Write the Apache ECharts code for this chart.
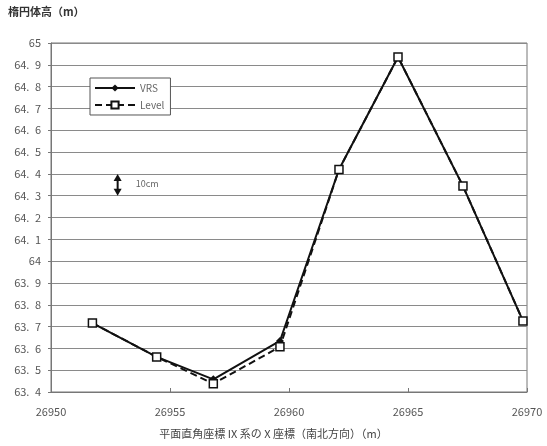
<!DOCTYPE html>
<html>
<head>
<meta charset="utf-8">
<script src="https://cdn.jsdelivr.net/npm/echarts@6/dist/echarts.min.js"></script>
<style>html,body{margin:0;padding:0;background:#fff;}#c{width:547px;height:446px;}</style>
</head>
<body>
<div id="c"></div>
<script>
const xValues = [26951.74, 26954.44, 26956.82, 26959.62, 26962.1, 26964.58, 26967.31, 26969.83];
const vrsValues = [63.716, 63.561, 63.458, 63.634, 64.42, 64.936, 64.344, 63.726];
const levelValues = [63.716, 63.561, 63.438, 63.607, 64.42, 64.936, 64.344, 63.726];
const seriesNames = ['VRS', 'Level'];
const yTitle = '楕円体高（m）';
const xTitle = '平面直角座標 IX 系の X 座標（南北方向）（m）';
const annoX = 26952.8, annoTop = 64.4, annoBottom = 64.3, annoText = '10cm';

const font = '"Noto Sans CJK JP", "Liberation Sans", sans-serif';
const chart = echarts.init(document.getElementById('c'));
const pair = (xs, ys) => xs.map((x, i) => [x, ys[i]]);

chart.setOption({
  animation: false,
  backgroundColor: '#fff',
  grid: { left: 51, right: 20, top: 43, bottom: 54, show: true, borderColor: '#777', borderWidth: 1, backgroundColor: 'transparent' },
  xAxis: {
    type: 'value', min: 26950, max: 26970, interval: 5,
    axisLine: { show: true, lineStyle: { color: '#777' } },
    axisTick: { show: true, inside: true, length: 4, lineStyle: { color: '#777' } },
    splitLine: { show: false },
    axisLabel: { color: '#555', fontSize: 11, fontFamily: font, margin: 14, formatter: v => String(v) }
  },
  yAxis: {
    type: 'value', min: 63.4, max: 65, interval: 0.1,
    axisLine: { show: true, lineStyle: { color: '#777' } },
    axisTick: { show: true, length: 3, lineStyle: { color: '#777' } },
    splitLine: { show: true, lineStyle: { color: '#8a8a8a', width: 1 } },
    axisLabel: { color: '#555', fontSize: 11, fontFamily: font, margin: 10,
      formatter: v => { const s = (Math.round(v * 10) / 10).toString(); return s.replace('.', '.\u2002'); } }
  },
  legend: {
    orient: 'vertical', left: 90, top: 78, data: seriesNames,
    backgroundColor: '#fff', borderColor: '#555', borderWidth: 1,
    padding: [5, 6, 5, 4], itemGap: 7, itemWidth: 40, itemHeight: 9,
    textStyle: { color: '#666', fontSize: 10, fontFamily: font }
  },
  series: [
    {
      name: 'VRS', type: 'line', data: pair(xValues, vrsValues),
      symbol: 'diamond', symbolSize: 8, z: 3,
      lineStyle: { color: '#111', width: 2 }, itemStyle: { color: '#111' }
    },
    {
      name: 'Level', type: 'line', data: pair(xValues, levelValues),
      symbol: 'rect', symbolSize: 8, z: 4,
      lineStyle: { color: '#111', width: 2, type: [7, 4] },
      itemStyle: { color: '#fff', borderColor: '#111', borderWidth: 1.5 }
    }
  ]
});

const p1 = chart.convertToPixel({ gridIndex: 0 }, [annoX, annoTop]);
const p2 = chart.convertToPixel({ gridIndex: 0 }, [annoX, annoBottom]);
chart.setOption({
  graphic: [
    { type: 'text', left: 8, top: 6, style: { text: yTitle, fill: '#333', font: 'bold 11px ' + font } },
    { type: 'text', left: 'center', top: 428, style: { text: xTitle, fill: '#444', font: '11px ' + font } },
    { type: 'line', shape: { x1: p1[0], y1: p1[1] + 6, x2: p2[0], y2: p2[1] - 6 }, style: { stroke: '#111', lineWidth: 2 } },
    { type: 'polygon', shape: { points: [[p1[0], p1[1]], [p1[0] - 4, p1[1] + 7], [p1[0] + 4, p1[1] + 7]] }, style: { fill: '#111' } },
    { type: 'polygon', shape: { points: [[p2[0], p2[1]], [p2[0] - 4, p2[1] - 7], [p2[0] + 4, p2[1] - 7]] }, style: { fill: '#111' } },
    { type: 'text', x: p1[0] + 18, y: (p1[1] + p2[1]) / 2 - 6, style: { text: annoText, fill: '#666', font: '9px ' + font } }
  ]
});
</script>
</body>
</html>
